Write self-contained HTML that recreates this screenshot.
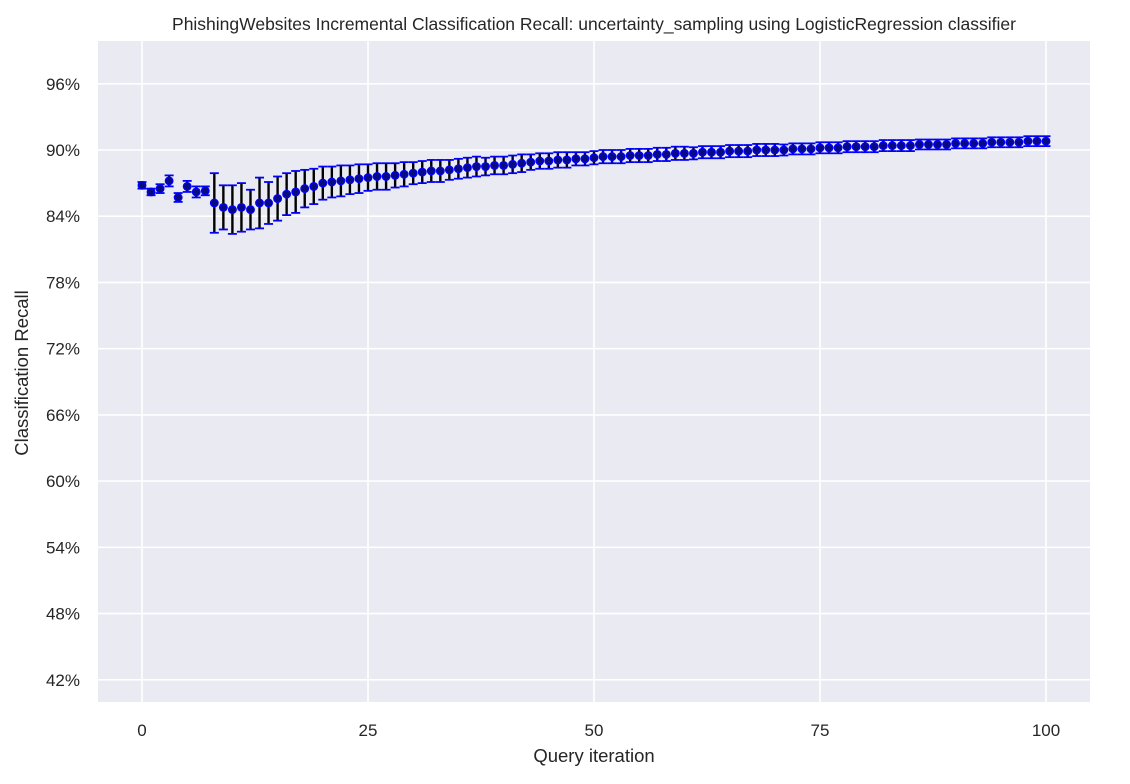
<!DOCTYPE html>
<html><head><meta charset="utf-8"><style>
body{margin:0;background:#fff;font-family:"Liberation Sans",Arial,sans-serif;}
svg text{font-family:"Liberation Sans",Arial,sans-serif;fill:#262626;}
</style></head><body>
<svg id="chart" width="1130" height="779" viewBox="0 0 1130 779" xmlns="http://www.w3.org/2000/svg">
<rect x="98" y="41" width="992" height="661" fill="#eaeaf2"/>
<g id="grid"></g>
<g id="marks"></g>
<g id="ticks"></g>
<text x="594" y="30" font-size="17.5" text-anchor="middle">PhishingWebsites Incremental Classification Recall: uncertainty_sampling using LogisticRegression classifier</text>
<text x="594" y="762" font-size="18.5" text-anchor="middle">Query iteration</text>
<text x="28" y="373" font-size="18.5" text-anchor="middle" transform="rotate(-90 28 373)">Classification Recall</text>
</svg>
<script>
const xTicks=[0,25,50,75,100];
const yTicks=[42,48,54,60,66,72,78,84,90,96];
const recall=[86.8,86.2,86.5,87.2,85.7,86.7,86.2,86.3,85.2,84.8,84.6,84.8,84.6,85.2,85.2,85.6,86.0,86.2,86.5,86.7,87.0,87.1,87.2,87.3,87.4,
87.5,87.6,87.6,87.7,87.8,87.9,88.0,88.1,88.1,88.2,88.3,88.4,88.5,88.5,88.6,88.6,88.7,88.8,88.9,89.0,89.0,89.1,89.1,89.2,89.2,89.3,
89.4,89.4,89.4,89.5,89.5,89.5,89.6,89.6,89.7,89.7,89.7,89.8,89.8,89.8,89.9,89.9,89.9,90.0,90.0,90.0,90.0,90.1,90.1,90.1,90.2,90.2,90.2,90.3,90.3,90.3,
90.3,90.4,90.4,90.4,90.4,90.5,90.5,90.5,90.5,90.6,90.6,90.6,90.6,90.7,90.7,90.7,90.7,90.8,90.8,90.8];
const recallErr=[0.3,0.3,0.4,0.5,0.4,0.5,0.5,0.4,2.7,2.0,2.2,2.2,1.8,2.3,1.9,2.0,1.9,1.9,1.7,1.6,1.5,1.4,1.4,1.3,1.3,
1.2,1.2,1.2,1.1,1.1,1.0,1.0,1.0,1.0,0.9,0.9,0.9,0.9,0.8,0.8,0.8,0.8,0.8,0.7,0.7,0.7,0.7,0.7,0.6,0.6,0.6,
0.6,0.6,0.6,0.6,0.6,0.6,0.6,0.6,0.6,0.6,0.55,0.55,0.55,0.55,0.55,0.55,0.55,0.55,0.55,0.55,
0.5,0.5,0.5,0.5,0.5,0.5,0.5,0.5,0.5,0.5,0.5,0.5,0.5,0.5,0.5,
0.45,0.45,0.45,0.45,0.45,0.45,0.45,0.45,0.45,0.45,0.45,0.45,0.45,0.45,0.45];
const NS="http://www.w3.org/2000/svg";
const xs=v=>142+v*(1046-142)/100;
const ys=v=>150-(v-90)*(680-84)/54;
function mk(tag,attrs,parent){const e=document.createElementNS(NS,tag);for(const k in attrs)e.setAttribute(k,attrs[k]);parent.appendChild(e);return e;}
const grid=document.getElementById('grid'),ticks=document.getElementById('ticks'),marks=document.getElementById('marks');
xTicks.forEach(t=>{
  const l=mk('line',{x1:xs(t),x2:xs(t),y1:41,y2:702,stroke:'#fff','stroke-width':1.6},grid);
  
  
  const tx=mk('text',{x:xs(t),y:736,'font-size':17,'text-anchor':'middle'},ticks);
  tx.textContent=t;
  
  
});
yTicks.forEach(t=>{
  const l=mk('line',{x1:98,x2:1090,y1:ys(t),y2:ys(t),stroke:'#fff','stroke-width':1.6},grid);
  
  
  const tx=mk('text',{x:80,y:ys(t)+6,'font-size':17,'text-anchor':'end'},ticks);
  tx.textContent=t+'%';
  
  
});
recall.forEach((v,i)=>{
  const x=xs(i),e=recallErr[i];
  const yt=ys(v+e),yb=ys(v-e);
  const g=mk('g',{},marks);
  
  
  mk('line',{x1:x,x2:x,y1:yt,y2:yb,stroke:'#000','stroke-width':2.4},g);
  mk('line',{x1:x-4.5,x2:x+4.5,y1:yt,y2:yt,stroke:'#0000ff','stroke-width':1.8},g);
  mk('line',{x1:x-4.5,x2:x+4.5,y1:yb,y2:yb,stroke:'#0000ff','stroke-width':1.8},g);
  mk('circle',{cx:x,cy:ys(v),r:3.8,fill:'#0a0a80',stroke:'#0000ff','stroke-width':1.3},g);
});
</script>
</body></html>
